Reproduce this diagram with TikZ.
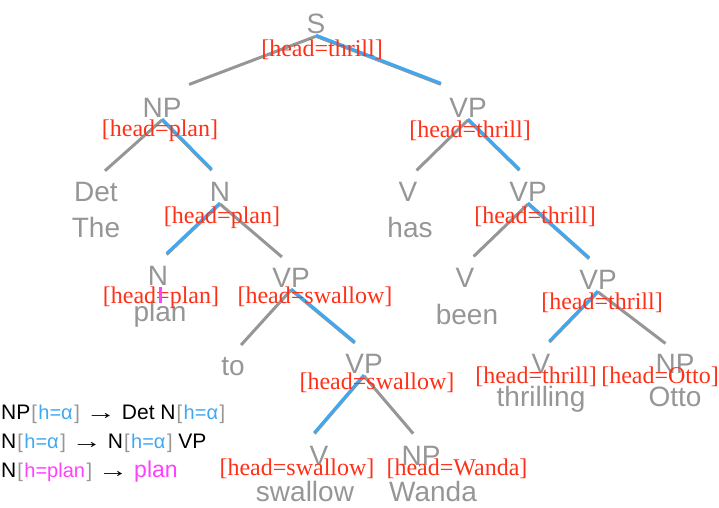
\documentclass[tikz,border=0pt]{standalone}
\usepackage{fontspec}
\setmainfont{Liberation Serif}
\newfontfamily\catfont{Liberation Sans}
\usepackage{tikz}

\definecolor{treegray}{RGB}{150,150,150}
\definecolor{headblue}{RGB}{64,168,240}
\definecolor{featred}{RGB}{255,48,24}
\definecolor{planpink}{RGB}{255,64,255}

\tikzset{
  cat/.style={anchor=base, text=treegray, font=\catfont\fontsize{28}{30}\selectfont, inner sep=3pt, outer sep=0pt},
  feat/.style={anchor=base, text=featred, font=\fontsize{24}{26}\selectfont, inner sep=0pt},
  branch/.style={draw=treegray, line width=3pt, shorten >=12pt},
  headbranch/.style={draw=headblue, line width=3pt, shorten >=12pt, transform canvas={yshift=1pt}},
  ruletext/.style={anchor=base west, font=\catfont\fontsize{21}{23}\selectfont, inner sep=0pt}
}
\newcommand{\hsub}[1]{{\fontsize{20}{21}\selectfont\kern1pt\textcolor{treegray}{[}\kern1.5pt#1\kern1.5pt\textcolor{treegray}{]}}}
\newcommand{\rarr}{\scalebox{1.45}[1]{→}}

\begin{document}
\begin{tikzpicture}[x=1pt,y=-1pt]
\useasboundingbox (0,0) rectangle (719,507);

%categories
\node[cat] (s) at (316,33){S};
\node[cat] (np) at (162,117){NP}; \node[cat] (vp) at (468,117){VP};
\node[cat] (det) at (96,201){Det}; \node[cat] (n) at (220,201){N}; \node[cat] (v1) at (408,201){V}; \node[cat] (vp2) at (528,201){VP};
\node[cat] (n2) at (158,285){N}; \node[cat] (vp3) at (291,287){VP}; \node[cat] (v2) at (465,287){V}; \node[cat] (vp4) at (598,289){VP};
\node[cat] (to) at (233,375){to}; \node[cat] (vp5) at (364,373){VP}; \node[cat] (v3) at (541,373){V}; \node[cat] (np3) at (675,373){NP};
\node[cat] (v4) at (319,465){V}; \node[cat] (np2) at (421,465){NP};

%words
\node[cat] (the) at (96,237){The}; \node[cat] (has) at (410,237){has}; \node[cat] (plan) at (160,321){plan}; \node[cat] (been) at (467,324){been};
\node[cat] (thrilling) at (541,406){thrilling}; \node[cat] (otto) at (675,406){Otto}; \node[cat] (swallow) at (305,501){swallow}; \node[cat] (wanda) at (433,501){Wanda};

%branches, head path in blue
\draw[branch,shorten >=29pt] (s.south)--(np.north); \draw[branch,shorten >=29pt] (s.south)--(vp.north); \draw[headbranch,shorten >=29pt] (s.south)--(vp.north);
\draw[branch] (np.south)--(det.north); \draw[branch] (np.south)--(n.north); \draw[headbranch] (np.south)--(n.north);
\draw[branch] (vp.south)--(v1.north); \draw[branch] (vp.south)--(vp2.north); \draw[headbranch] (vp.south)--(vp2.north);
\draw[branch] (n.south)--(n2.north); \draw[headbranch] (n.south)--(n2.north); \draw[branch] (n.south)--(vp3.north);
\draw[branch] (vp2.south)--(v2.north); \draw[branch] (vp2.south)--(vp4.north); \draw[headbranch] (vp2.south)--(vp4.north);
\draw[branch] (vp3.south)--(to.north); \draw[branch] (vp3.south)--(vp5.north); \draw[headbranch] (vp3.south)--(vp5.north);
\draw[branch] (vp4.south)--(v3.north); \draw[headbranch] (vp4.south)--(v3.north); \draw[branch] (vp4.south)--(np3.north);
\draw[branch] (vp5.south)--(v4.north west); \draw[headbranch] (vp5.south)--(v4.north west); \draw[branch] (vp5.south)--(np2.north);

%head features
\node[feat] (fs) at (322,56){[head=thrill]};
\node[feat] (fnp) at (160,136){[head=plan]}; \node[feat] (fvp) at (470,137){[head=thrill]};
\node[feat] (fn) at (222,223){[head=plan]}; \node[feat] (fvp2) at (535,223){[head=thrill]};
\node[feat] (fn2) at (161,303){[head=plan]}; \node[feat] (fvp3) at (315,303){[head=swallow]}; \node[feat] (fvp4) at (602,309){[head=thrill]};
\node[feat] (fvp5) at (377,389){[head=swallow]}; \node[feat] (fv3) at (536,383){[head=thrill]}; \node[feat] (fnp3) at (660,383){[head=Otto]};
\node[feat] (fv4) at (297,475){[head=swallow]}; \node[feat] (fnp2) at (457,475){[head=Wanda]};
\draw[planpink,line width=3pt] (160,287)--(160,303);

%rules
\node[ruletext] (r1) at (1,419){NP\hsub{\textcolor{headblue}{h=α}} \rarr{} Det N\hsub{\textcolor{headblue}{h=α}}};
\node[ruletext] (r2) at (1,448){N\hsub{\textcolor{headblue}{h=α}} \rarr{} N\hsub{\textcolor{headblue}{h=α}} VP};
\node[ruletext] (r3) at (1,477){N\hsub{\textcolor{planpink}{h=plan}} \rarr{} {\fontsize{23}{24}\selectfont\textcolor{planpink}{plan}}};
\end{tikzpicture}
\end{document}
